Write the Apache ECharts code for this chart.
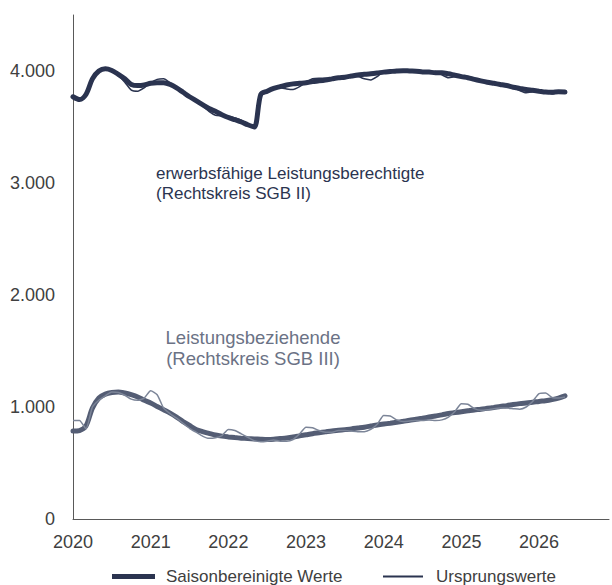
<!DOCTYPE html>
<html>
<head>
<meta charset="utf-8">
<script src="https://cdn.jsdelivr.net/npm/echarts@6/dist/echarts.min.js"></script>
<style>
  html, body { margin: 0; padding: 0; background: #fff; }
  #main { width: 612px; height: 585px; }
</style>
</head>
<body>
<div id="main"></div>
<script>
// Monatswerte Jan 2020 bis Mai 2026
var startYear = 2020;
var monthCount = 77;
var yearTicks = [2020, 2021, 2022, 2023, 2024, 2025, 2026];
var valueTicks = [0, 1000, 2000, 3000, 4000];

// erwerbsfähige Leistungsberechtigte (SGB II), in Tausend
var saSGB2 = [
  3770, 3745, 3790, 3930, 4000, 4020, 4005, 3970, 3930, 3880, 3870, 3875,
  3890, 3895, 3895, 3880, 3850, 3810, 3770, 3735, 3700, 3665, 3640, 3610,
  3585, 3565, 3545, 3520, 3500, 3790, 3820, 3845, 3860, 3875, 3885, 3890,
  3895, 3905, 3912, 3920, 3930, 3940, 3945, 3955, 3965, 3970, 3975, 3982,
  3990, 3995, 4000, 4003, 4000, 3998, 3992, 3990, 3985, 3985, 3975, 3962,
  3950, 3940, 3925, 3912, 3900, 3890, 3880, 3870, 3855, 3845, 3835, 3828,
  3820, 3812, 3810, 3815, 3812
];
var rawSGB2 = [
  3775, 3750, 3800, 3945, 4010, 4025, 4000, 3960, 3900, 3830, 3820, 3850,
  3895, 3925, 3930, 3895, 3850, 3805, 3765, 3730, 3690, 3640, 3605, 3600,
  3595, 3580, 3560, 3525, 3495, 3785, 3815, 3840, 3850, 3840, 3835, 3860,
  3900, 3930, 3935, 3935, 3935, 3940, 3945, 3950, 3950, 3930, 3920, 3950,
  3995, 4005, 4005, 4005, 4000, 3995, 3990, 3985, 3995, 3965, 3940, 3950,
  3960, 3945, 3930, 3915, 3900, 3890, 3880, 3865, 3850, 3825, 3805, 3815,
  3825, 3815, 3795, 3810, 3815
];

// Leistungsbeziehende (SGB III), in Tausend
var saSGB3 = [
  785, 790, 830, 990, 1080, 1115, 1130, 1135, 1125, 1110, 1090, 1060,
  1035, 1005, 975, 945, 910, 870, 835, 800, 780, 765, 750, 740,
  733, 727, 722, 718, 715, 712, 710, 712, 718, 724, 732, 742,
  752, 762, 770, 778, 786, 792, 798, 804, 812, 820, 830, 840,
  848, 855, 863, 872, 882, 890, 900, 910, 920, 930, 942, 950,
  958, 966, 974, 980, 988, 996, 1005, 1012, 1022, 1030, 1036, 1042,
  1050, 1056, 1066, 1080, 1100
];
var rawSGB3 = [
  880, 880, 805, 1000, 1060, 1100, 1135, 1130, 1105, 1070, 1060, 1080,
  1145, 1110, 990, 940, 900, 855, 810, 775, 740, 720, 725, 745,
  800, 790, 760, 730, 700, 690, 695, 705, 695, 695, 710, 760,
  820, 815, 790, 775, 775, 790, 790, 785, 780, 780, 800, 845,
  925, 920, 885, 870, 875, 880, 880, 885, 880, 885, 910, 960,
  1030, 1025, 985, 970, 975, 985, 990, 990, 985, 980, 1000, 1050,
  1120, 1125, 1085, 1080, 1090
];

// Monatsposition als Dezimaljahr
var months = [];
for (var i = 0; i < monthCount; i++) {
  months.push(startYear + i / 12);
}
function pairs(vals) {
  return vals.map(function (v, i) { return [months[i], v]; });
}

var navy = '#2b3450';
var slate = '#545d74';
var slateLight = '#7c8598';
var labelColor = '#404040';
var fontFam = '"Liberation Sans", Arial, sans-serif';

var chart = echarts.init(document.getElementById('main'), null, { renderer: 'svg' });

var option = {
  animation: false,
  backgroundColor: '#fff',
  grid: { left: 73, right: 0, top: 15, bottom: 66 },
  xAxis: {
    type: 'value',
    min: yearTicks[0],
    max: 2026.9,
    interval: 1,
    axisLine: { show: true, lineStyle: { color: '#595959', width: 1 } },
    axisTick: { show: false },
    splitLine: { show: false },
    axisLabel: {
      margin: 14,
      color: labelColor,
      fontSize: 18,
      fontFamily: fontFam,
      formatter: function (v) {
        return yearTicks.indexOf(v) >= 0 ? String(v) : '';
      }
    }
  },
  yAxis: {
    type: 'value',
    min: valueTicks[0],
    max: 4500,
    interval: 1000,
    axisLine: { show: true, lineStyle: { color: '#595959', width: 1 } },
    axisTick: { show: false },
    splitLine: { show: false },
    axisLabel: {
      margin: 18,
      color: labelColor,
      fontSize: 18,
      fontFamily: fontFam,
      formatter: function (v) {
        if (valueTicks.indexOf(v) < 0) return '';
        return v === 0 ? '0' : (v / 1000) + '.000';
      }
    }
  },
  legend: [
    {
      data: [{ name: 'Saisonbereinigte Werte', icon: 'rect' }],
      left: 112,
      top: 568,
      padding: 0,
      itemWidth: 43,
      itemHeight: 5,
      textStyle: { color: labelColor, fontSize: 17, fontFamily: fontFam, padding: [0, 0, 0, 6] }
    },
    {
      data: [{ name: 'Ursprungswerte', icon: 'rect' }],
      left: 383,
      top: 568,
      padding: 0,
      itemWidth: 40,
      itemHeight: 2,
      textStyle: { color: labelColor, fontSize: 17, fontFamily: fontFam, padding: [0, 0, 0, 8] }
    }
  ],
  graphic: [
    {
      type: 'text',
      left: 156,
      top: 163,
      style: {
        text: 'erwerbsfähige Leistungsberechtigte\n(Rechtskreis SGB II)',
        fill: navy,
        fontSize: 17,
        fontFamily: fontFam,
        lineHeight: 20
      }
    },
    {
      type: 'text',
      x: 253,
      y: 327,
      style: {
        text: 'Leistungsbeziehende\n(Rechtskreis SGB III)',
        fill: '#6b7285',
        fontSize: 18.5,
        fontFamily: fontFam,
        lineHeight: 21,
        align: 'center',
        verticalAlign: 'top'
      }
    }
  ],
  series: [
    {
      name: 'Saisonbereinigte Werte',
      type: 'line',
      data: pairs(saSGB2),
      smooth: 0.3,
      showSymbol: false,
      lineStyle: { color: navy, width: 5, cap: 'round' },
      itemStyle: { color: navy },
      z: 2
    },
    {
      name: 'Ursprungswerte',
      type: 'line',
      data: pairs(rawSGB2),
      smooth: 0.2,
      showSymbol: false,
      lineStyle: { color: navy, width: 1.5 },
      itemStyle: { color: navy },
      z: 3
    },
    {
      name: 'Saisonbereinigte Werte',
      type: 'line',
      data: pairs(saSGB3),
      smooth: 0.3,
      showSymbol: false,
      lineStyle: { color: slate, width: 5, cap: 'round' },
      itemStyle: { color: slate },
      z: 2
    },
    {
      name: 'Ursprungswerte',
      type: 'line',
      data: pairs(rawSGB3),
      smooth: 0.2,
      showSymbol: false,
      lineStyle: { color: slateLight, width: 1.5 },
      itemStyle: { color: slateLight },
      z: 3
    }
  ]
};

chart.setOption(option);
window.addEventListener('resize', function () {
  chart.resize();
});
</script>
</body>
</html>
